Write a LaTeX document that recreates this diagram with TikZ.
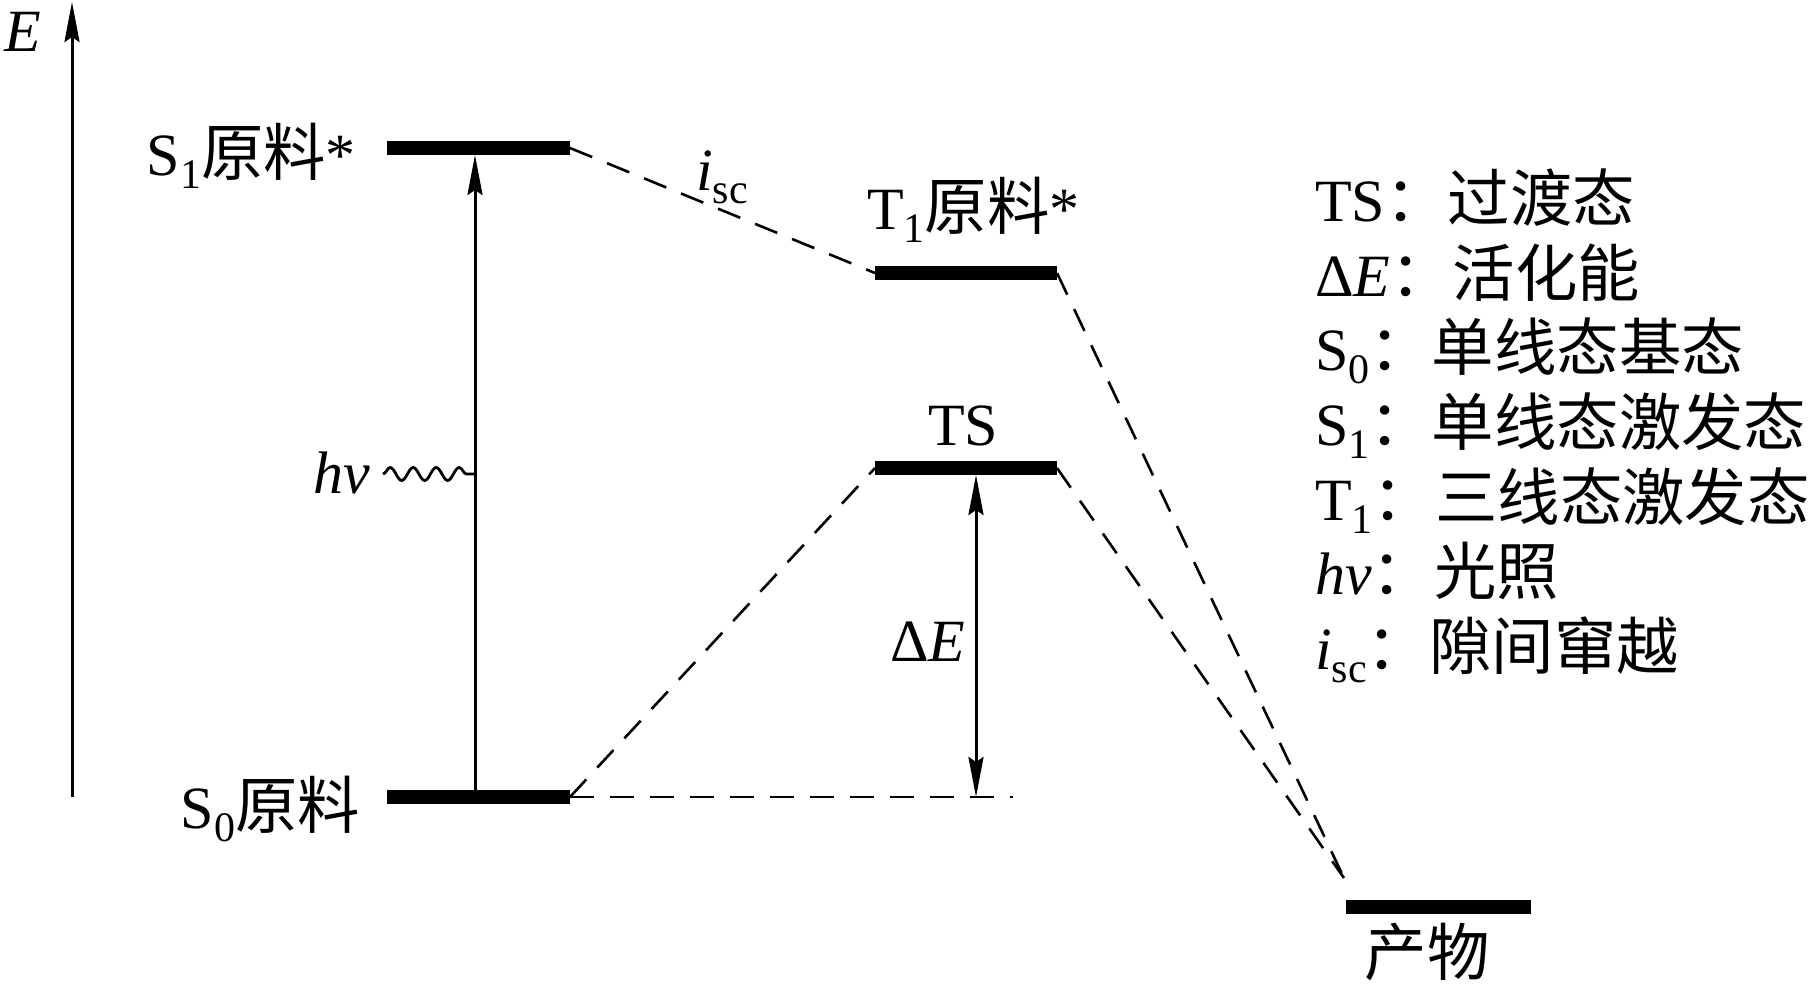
\documentclass[tikz,border=0pt]{standalone}
\usepackage{fontspec}
\setmainfont{Liberation Serif}
\newfontfamily\cjk[Scale=1.04]{Noto Sans CJK SC}
\usetikzlibrary{arrows.meta,decorations.pathmorphing}
\newcommand{\lowsub}[1]{\raisebox{-0.22em}{\fontsize{42}{42}\selectfont #1}}
\begin{document}
\begin{tikzpicture}[x=1pt,y=-1pt,
  lvl/.style={line width=14pt},
  thinln/.style={line width=3pt},
  dsh/.style={line width=2.6pt, dash pattern=on 24pt off 16pt},
  lab/.style={font=\fontsize{60}{72}\selectfont, inner sep=0pt},
  tipup/.style={-{Stealth[length=40pt,width=15pt,inset=5pt]}},
  tipboth/.style={{Stealth[length=40pt,width=15pt,inset=5pt]}-{Stealth[length=40pt,width=15pt,inset=5pt]}}
]
\useasboundingbox (0,0) rectangle (1812,990);

% level coordinates
\coordinate (s1L) at (387,148); \coordinate (s1R) at (570,148);
\coordinate (t1L) at (875,273); \coordinate (t1R) at (1057,273);
\coordinate (tsL) at (875,468); \coordinate (tsR) at (1057,468);
\coordinate (s0L) at (387,797); \coordinate (s0R) at (570,797);
\coordinate (pL) at (1346,907); \coordinate (pR) at (1531,907);
\coordinate (pTop) at (1344,878);
\coordinate (axB) at (72,797); \coordinate (axT) at (72,2);
\coordinate (hvB) at (475,797); \coordinate (hvT) at (475,155);
\coordinate (dEt) at (976,475); \coordinate (dEb) at (976,797);
\coordinate (dEnd) at (1013,797);
\coordinate (wvL) at (383,474); \coordinate (wvR) at (475,474);

% axis
\draw[thinln, tipup] (axB) -- (axT);
\node[lab, anchor=base west] (Elab) at (4,52) {\textit{E}};

% dashed connectors
\draw[dsh] (s1R) -- (t1L);
\draw[dsh] (s0R) -- (tsL);
\draw[dsh] (s0R) -- (dEnd);
\draw[dsh] (t1R) -- (pTop);
\draw[dsh] (tsR) -- (pTop);

% levels
\draw[lvl] (s1L) -- (s1R);
\draw[lvl] (t1L) -- (t1R);
\draw[lvl] (tsL) -- (tsR);
\draw[lvl] (s0L) -- (s0R);
\draw[lvl] (pL) -- (pR);

% arrows
\draw[thinln, tipup] (hvB) -- (hvT);
\draw[thinln, tipboth] (dEt) -- (dEb);
\draw[line width=2.8pt, decorate, decoration={snake, segment length=23pt, amplitude=6.5pt}] (wvL) -- (wvR);

% labels
\node[lab, anchor=base east] (s1lab) at (356,175) {S\lowsub{1}{\cjk 原料}*};
\node[lab, anchor=base east] (s0lab) at (360,828) {S\lowsub{0}{\cjk 原料}};
\node[lab, anchor=base west] (t1lab) at (867,229) {T\lowsub{1}{\cjk 原料}*};
\node[lab, anchor=base] (tslab) at (963,445) {TS};
\node[lab, anchor=base west] (isclab) at (696,190) {\textit{i}\lowsub{sc}};
\node[lab, anchor=base east] (hvlab) at (370,493) {\textit{hv}};
\node[lab, anchor=base west] (dElab) at (890,661) {Δ\textit{E}};
\node[lab, anchor=base] (plab) at (1427,975) {\cjk 产物};

% legend
\node[lab, anchor=base west] (leg1) at (1315,221) {TS{\cjk ：过渡态}};
\node[lab, anchor=base west] (leg2) at (1315,296) {Δ\textit{E}{\cjk ：活化能}};
\node[lab, anchor=base west] (leg3) at (1315,370) {S\lowsub{0}{\cjk ：单线态基态}};
\node[lab, anchor=base west] (leg4) at (1315,445) {S\lowsub{1}{\cjk ：单线态激发态}};
\node[lab, anchor=base west] (leg5) at (1315,520) {T\lowsub{1}{\cjk ：三线态激发态}};
\node[lab, anchor=base west] (leg6) at (1315,594) {\textit{hv}{\cjk ：光照}};
\node[lab, anchor=base west] (leg7) at (1315,669) {\textit{i}\lowsub{sc}{\cjk ：隙间窜越}};
\end{tikzpicture}
\end{document}
